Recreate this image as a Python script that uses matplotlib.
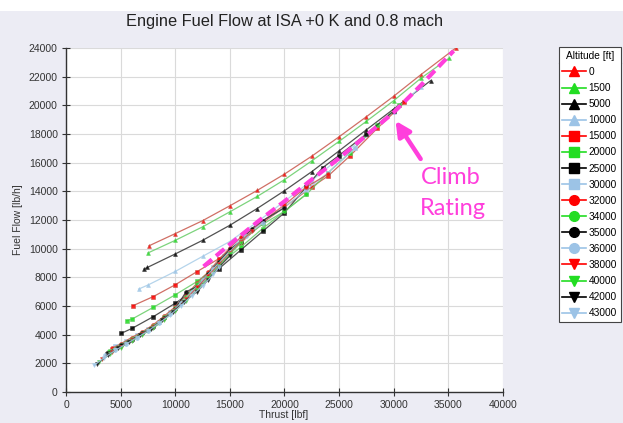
import matplotlib
matplotlib.use("Agg")
import matplotlib.pyplot as plt
from matplotlib.lines import Line2D
from matplotlib.patches import Rectangle

# --- data (thrust [lbf], fuel flow [lb/h]) ---
altitudes = ["0", "1500", "5000", "10000", "15000", "20000", "25000", "30000",
             "32000", "34000", "35000", "36000", "38000", "40000", "42000", "43000"]

thrust_0 = [7600, 10000, 12500, 15000, 17500, 20000, 22500, 25000, 27500, 30000, 32500, 35700]
ff_0 = [10200, 11050, 11950, 12990, 14060, 15200, 16450, 17800, 19200, 20630, 22140, 24000]

thrust_1500 = [7500, 10000, 12500, 15000, 17500, 20000, 22500, 25000, 27500, 30000, 32500, 35100]
ff_1500 = [9700, 10580, 11520, 12570, 13640, 14810, 16120, 17480, 18880, 20320, 21890, 23300]

thrust_5000 = [7150, 7450, 10000, 12500, 15000, 17500, 20000, 22500, 25000, 27500, 30000, 33400]
ff_5000 = [8580, 8690, 9630, 10580, 11630, 12800, 14040, 15370, 16820, 18290, 19740, 21730]

thrust_10000 = [6650, 7550, 10000, 12500, 15000, 17500, 20000, 22500, 25000, 27500, 30000, 32500]
ff_10000 = [7180, 7480, 8410, 9460, 10500, 11850, 13300, 14750, 16300, 17900, 19550, 21300]

thrust_15000 = [6100, 8000, 10000, 12000, 14000, 16000, 18000, 20000, 22500, 24000, 26000, 28500, 31000]
ff_15000 = [6010, 6660, 7480, 8400, 9300, 10400, 11800, 12900, 14300, 15070, 16470, 18390, 20200]

thrust_20000 = [5550, 6050, 8000, 10000, 12000, 14000, 16000, 18000, 20000, 22000, 24000, 26000, 28500, 30500]
ff_20000 = [4980, 5090, 5910, 6780, 7710, 8900, 10100, 11400, 12600, 13780, 15300, 16700, 18600, 20000]

thrust_25000 = [5050, 6050, 8000, 10000, 12000, 14000, 16000, 18000, 20000, 22000, 23500, 25000, 27500, 30000]
ff_25000 = [4090, 4440, 5260, 6190, 7250, 8600, 9900, 11200, 12500, 14300, 15650, 16500, 18000, 19600]

thrust_30000 = [4500, 5500, 6500, 7500, 8500, 9500, 10500, 11500, 12500, 13500, 14500, 16000, 18000, 20000, 22000, 24000, 26500]
ff_30000 = [3200, 3550, 3950, 4400, 4900, 5550, 6300, 7100, 7900, 8700, 9500, 10700, 11900, 12900, 14100, 15300, 17000]

thrust_32000 = [4200, 5000, 6000, 7000, 8000, 9000, 10000, 11000, 12000, 13000, 14000, 15000, 16000, 17000, 18000, 20000, 22000, 24000]
ff_32000 = [3050, 3350, 3800, 4200, 4700, 5300, 5950, 6750, 7600, 8350, 9250, 10050, 10800, 11300, 11900, 13050, 14300, 15200]

thrust_34000 = [3950, 5000, 6000, 7000, 8000, 9000, 10000, 11000, 12000, 13000, 14000, 15000, 16000, 18000, 20000, 22000]
ff_34000 = [2850, 3300, 3700, 4150, 4600, 5200, 5850, 6650, 7500, 8250, 9050, 9800, 10550, 11700, 12600, 13800]

thrust_35000 = [3750, 5000, 6000, 7000, 8000, 9000, 10000, 11000, 12000, 13000, 14000, 15000, 16000, 17000, 18000, 20000]
ff_35000 = [2700, 3250, 3650, 4100, 4550, 5150, 5800, 7000, 7350, 8250, 9100, 9950, 10500, 11400, 11950, 12850]

thrust_36000 = [3600, 4500, 5500, 6500, 7500, 8500, 9500, 10500, 11500, 12500, 13500, 15000, 16500, 18000]
ff_36000 = [2550, 2950, 3350, 3800, 4250, 4800, 5450, 6200, 6950, 7800, 8600, 9800, 10900, 11800]

thrust_38000 = [3300, 4200, 5000, 6000, 7000, 8000, 9000, 10000, 11000, 12000, 13000, 14000, 15000, 16000, 17000]
ff_38000 = [2300, 2800, 3150, 3600, 4050, 4500, 5100, 5700, 6500, 7300, 8100, 8900, 9700, 10500, 11200]

thrust_40000 = [3050, 4000, 5000, 6000, 7000, 8000, 9000, 10000, 11000, 12000, 13000, 14000, 15000, 16000]
ff_40000 = [2100, 2650, 3100, 3550, 4000, 4450, 5050, 5650, 6350, 7100, 7950, 8800, 9600, 10400]

thrust_42000 = [2800, 3800, 4800, 5800, 6800, 7800, 8800, 9800, 10800, 12000, 13000, 14000, 15000]
ff_42000 = [1950, 2550, 3050, 3500, 3950, 4400, 5000, 5600, 6300, 7000, 7800, 8700, 9500]

thrust_43000 = [2600, 3500, 4500, 5500, 6500, 7500, 8500, 9500, 10500, 11500, 12500, 13500, 14000]
ff_43000 = [1870, 2400, 2900, 3350, 3800, 4250, 4800, 5350, 6000, 6700, 7400, 8200, 8700]

# climb rating (dashed)
climb_thrust = [12600, 15000, 17800, 20000, 22300, 25000, 27500, 30000, 32500, 35500]
climb_ff = [8760, 10300, 12030, 13300, 14700, 16300, 17900, 19500, 21400, 23800]

series = [
    (thrust_0, ff_0), (thrust_1500, ff_1500), (thrust_5000, ff_5000), (thrust_10000, ff_10000),
    (thrust_15000, ff_15000), (thrust_20000, ff_20000), (thrust_25000, ff_25000), (thrust_30000, ff_30000),
    (thrust_32000, ff_32000), (thrust_34000, ff_34000), (thrust_35000, ff_35000), (thrust_36000, ff_36000),
    (thrust_38000, ff_38000), (thrust_40000, ff_40000), (thrust_42000, ff_42000), (thrust_43000, ff_43000),
]

colors = ["#FF0000", "#22DD22", "#000000", "#9CC3E6"]
markers = ["^", "s", "o", "v"]
line_colors = ["#C8564A", "#66CC66", "#333333", "#A8CDE8"]
pink = "#FF3FDC"

plt.rcParams["font.family"] = ["Liberation Sans", "DejaVu Sans"]

fig = plt.figure(figsize=(6.23, 4.23), dpi=100, facecolor="#ECECF4")
fig.patches.append(Rectangle((0, 0.975), 1, 0.025, transform=fig.transFigure,
                             facecolor="white", edgecolor="none", zorder=-10))
ax = fig.add_axes([0.106, 0.0733, 0.701, 0.8132])
ax.set_facecolor("white")

for i, (t, f) in enumerate(series):
    c = line_colors[i % 4]
    ax.plot(t, f, color=c, lw=0.9, marker=markers[i // 4], ms=2.8,
            mfc=colors[i % 4], mec=c, mew=0.5, alpha=0.85, zorder=3)

ax.plot(climb_thrust, climb_ff, color=pink, lw=3, dashes=(2.6, 1.3), zorder=5)

ax.annotate("", xy=(30180, 18920), xytext=(32480, 16260),
            arrowprops=dict(arrowstyle="-|>", color=pink, lw=3.2, mutation_scale=22,
                            shrinkA=0, shrinkB=0), zorder=6)
ax.text(35230, 14980, "Climb", color=pink, fontsize=17, ha="center", va="center",
        family=["Lato", "DejaVu Sans"], zorder=6)
ax.text(35400, 12800, "Rating", color=pink, fontsize=17, ha="center", va="center",
        family=["Lato", "DejaVu Sans"], zorder=6)

ax.set_xlim(0, 40000)
ax.set_ylim(0, 24000)
ax.set_xticks(range(0, 40001, 5000))
ax.set_yticks(range(0, 24001, 2000))
ax.grid(True, color="#DADADA", lw=0.8)
ax.set_axisbelow(True)
for s in ["top", "right"]:
    ax.spines[s].set_visible(False)
for s in ["left", "bottom"]:
    ax.spines[s].set_color("#333333")
    ax.spines[s].set_linewidth(1.0)
ax.tick_params(direction="inout", length=6, width=0.8, color="#333333",
               labelsize=7.5, labelcolor="#333333", pad=3)

fig.text(0.456, 0.95, "Engine Fuel Flow at ISA +0 K and 0.8 mach", ha="center", va="center",
         fontsize=11.8, color="#222222")
fig.text(0.456, 0.018, "Thrust [lbf]", ha="center", va="center", fontsize=7.5, color="#333333")
fig.text(0.029, 0.48, "Fuel Flow [lb/h]", ha="center", va="center", rotation=90,
         fontsize=7.5, color="#333333")

handles = [Line2D([0], [0], color=colors[i % 4], lw=1.2, marker=markers[i // 4], ms=7,
                  mfc=colors[i % 4], mec=colors[i % 4]) for i in range(len(series))]
leg = fig.legend(handles, altitudes, title="Altitude [ft]", loc="upper left",
                 bbox_to_anchor=(0.897, 0.888), fontsize=7.3, title_fontsize=7.3,
                 frameon=True, fancybox=False, edgecolor="#444444", facecolor="white",
                 framealpha=1, handlelength=2.3, handletextpad=0.3, labelspacing=0.6,
                 borderpad=0.35, borderaxespad=0)
leg.get_frame().set_linewidth(0.8)

fig.canvas.draw()
bb = leg.get_window_extent().transformed(fig.transFigure.inverted())
tb = leg.get_title().get_window_extent().transformed(fig.transFigure.inverted())
y_sep = tb.y0 - 0.006
fig.add_artist(Line2D([bb.x0, bb.x1], [y_sep, y_sep], color="#444444", lw=0.8,
                      transform=fig.transFigure))

fig.savefig("out.png", dpi=100, facecolor=fig.get_facecolor())
